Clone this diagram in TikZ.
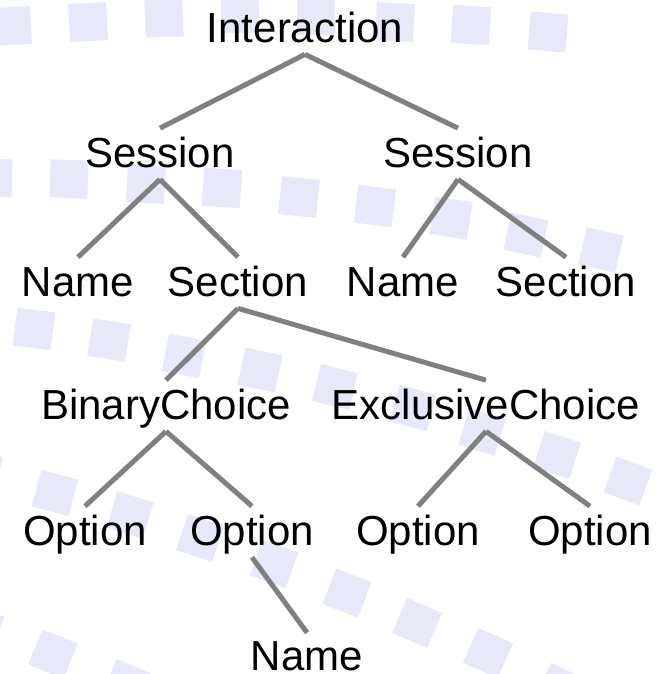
\documentclass[tikz,border=0pt]{standalone}
\usepackage{fontspec}
\setmainfont{Liberation Sans}
\usepackage{tikz}

\definecolor{tilelav}{RGB}{232,232,251}
\definecolor{linegray}{RGB}{128,128,128}

\tikzset{
	word/.style={font=\fontsize{23.9pt}{28pt}\selectfont, text height=0.74cm, text depth=0.21cm, inner sep=0.03cm, anchor=base},
	branch/.style={draw=linegray, line width=0.1cm},
	tile/.style={fill=tilelav}
}

\begin{document}
\begin{tikzpicture}[x=0.02cm, y=-0.02cm]
				\useasboundingbox (0,0) rectangle (668,674);

				% Background tiles
				\begin{scope}
					\clip (0,0) rectangle (668,674);
					\foreach \x/\y/\a in {
						12/26/3, 88/22/3, 164/18/2, 240/14/1, 316/16/0, 395/22/-3, 471/25/-4, 548/32/-5,
						-7/178/-1, 69/179/-2, 146/184/-3, 222/188/-4, 299/197/-6, 375/206/-7, 451/218/-9, 526/235/-12, 601/250/-13,
						34/329/-7, 109/340/-9, 184/356/-11, 260/370/-12, 335/387/-14, 413/408/-15, 482/432/-17, 557/455/-18, 628/481/-20,
						-20/471/-14, 55/493/-15, 130/515/-17, 200/538/-18, 274/564/-20, 347/593/-21, 417/623/-23, 488/653/-24, 560/688/-26,
						-20/628/-20, 53/654/-22, 127/684/-23}
						\fill[tile, shift={(\x,\y)}, rotate=\a] (-19,-19) rectangle (19,19);
				\end{scope}

				% Nodes
				\node[word] (inter) at (305,42) {Interaction};
				\node[word] (sessA) at (160,167) {Session};
				\node[word] (sessB) at (458,167) {Session};
				\node[word] (nameA) at (78,296) {Name};
				\node[word] (sectA) at (238,296) {Section};
				\node[word] (nameB) at (403,296) {Name};
				\node[word] (sectB) at (566,296) {Section};
				\node[word] (binary) at (166,419) {BinaryChoice};
				\node[word] (exclusive) at (486,419) {ExclusiveChoice};
				\node[word] (optA) at (85,545) {Option};
				\node[word] (optB) at (252,545) {Option};
				\node[word] (optC) at (418,545) {Option};
				\node[word] (optD) at (590,545) {Option};
				\node[word, text depth=0pt, inner ysep=0pt] (leaf) at (307,670) {Name};

				% Tree edges
				\draw[branch] (inter.south) -- (sessA.north);
				\draw[branch] (inter.south) -- (sessB.north);
				\draw[branch] (sessA.south) -- (nameA.north);
				\draw[branch] (sessA.south) -- (sectA.north);
				\draw[branch] (sessB.south) -- (nameB.north);
				\draw[branch] (sessB.south) -- (sectB.north);
				\draw[branch] (sectA.south) -- (binary.north);
				\draw[branch] (sectA.south) -- (exclusive.north);
				\draw[branch] (binary.south) -- (optA.north);
				\draw[branch] (binary.south) -- (optB.north);
				\draw[branch] (exclusive.south) -- (optC.north);
				\draw[branch] (exclusive.south) -- (optD.north);
				\draw[branch] (optB.south) -- (leaf.north);
			\end{tikzpicture}
\end{document}
